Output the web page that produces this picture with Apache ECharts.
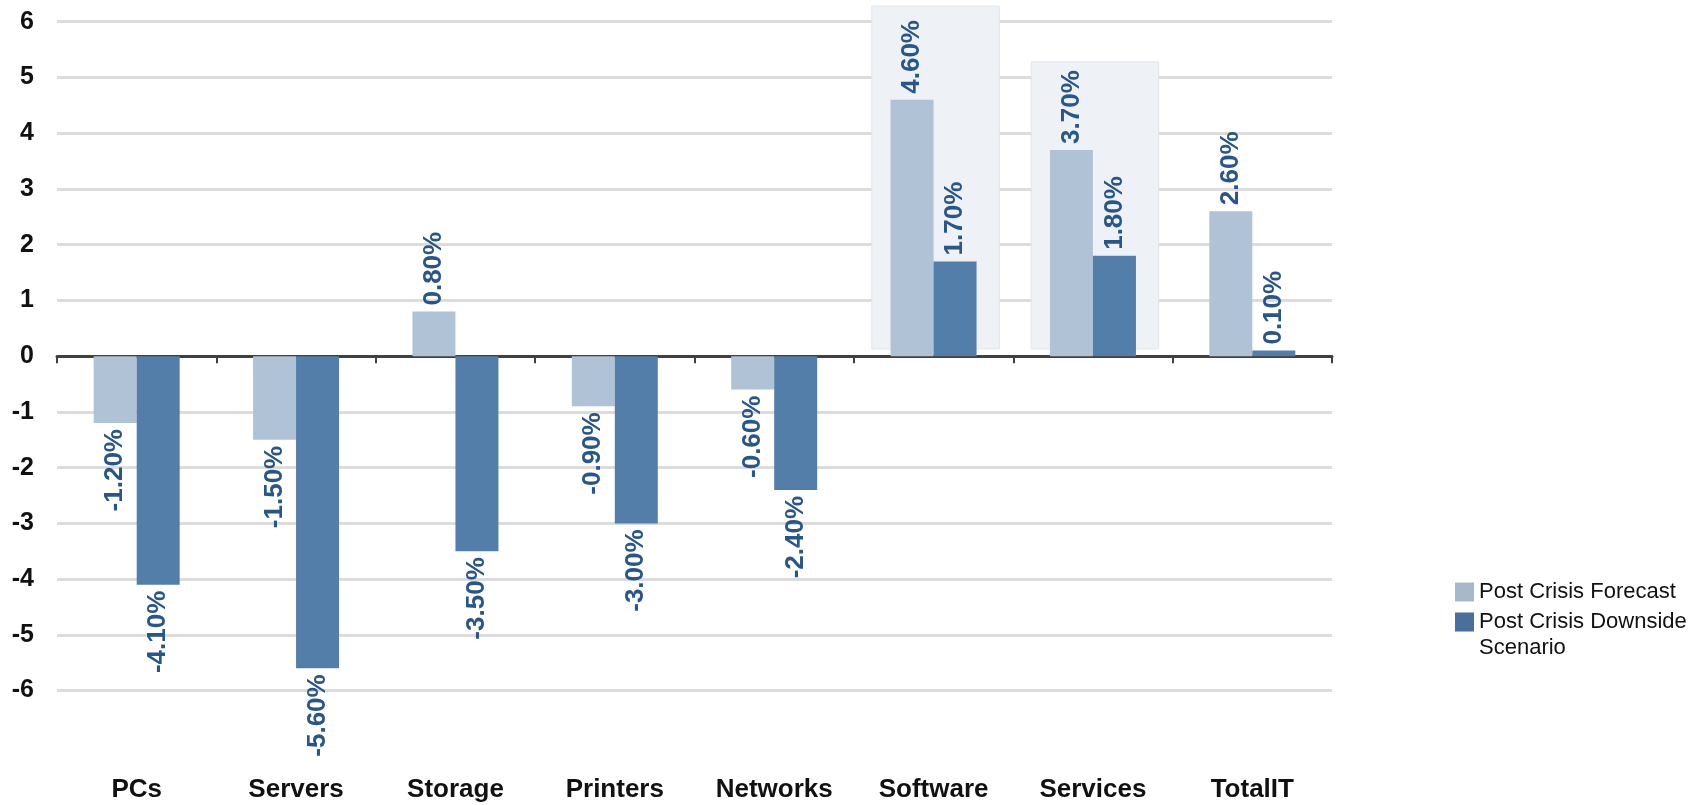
<!DOCTYPE html>
<html>
<head>
<meta charset="utf-8">
<title>Post Crisis IT Spending Outlook</title>
<script src="https://cdn.jsdelivr.net/npm/echarts@6/dist/echarts.min.js"></script>
<style>
  html, body { margin: 0; padding: 0; background: #ffffff; }
  #chart { width: 1700px; height: 805px; }
</style>
</head>
<body>
<div id="chart"></div>
<script>
// Growth outlook by IT segment (percent)
const categories = ['PCs', 'Servers', 'Storage', 'Printers', 'Networks', 'Software', 'Services', 'TotalIT'];
const forecastValues = [-1.2, -1.5, 0.8, -0.9, -0.6, 4.6, 3.7, 2.6];
const downsideValues = [-4.1, -5.6, -3.5, -3.0, -2.4, 1.7, 1.8, 0.1];
const seriesNames = ['Post Crisis Forecast', 'Post Crisis Downside Scenario'];

// Value axis extent and step
const yMin = -6;
const yMax = 6;
const yStep = 1;

// Shaded boxes behind the segments that stay positive in both outlooks
const highlightCategories = ['Software', 'Services'];
const highlightTops = [6.28, 5.28];
const highlightBase = 0.13;

const FONT = "'Liberation Sans', Arial, sans-serif";
const LABEL_COLOR = '#28568a';

function withLabels(values) {
  return values.map(v => ({
    value: v,
    label: v >= 0
      ? { position: 'top', align: 'left', verticalAlign: 'middle' }
      : { position: 'bottom', align: 'right', verticalAlign: 'middle' }
  }));
}

const barLabel = {
  show: true,
  rotate: 90,
  distance: 6,
  color: LABEL_COLOR,
  fontFamily: FONT,
  fontWeight: 'bold',
  fontSize: 26,
  formatter: p => p.value.toFixed(2) + '%'
};

// Two-line legend entry: a blank first line keeps the swatch level with the first text line
function legendText(name) {
  if (name.indexOf('Downside Scenario') >= 0) {
    return ' \n' + name.replace('Downside Scenario', 'Downside\nScenario');
  }
  return name;
}

const chart = echarts.init(document.getElementById('chart'), null, { renderer: 'canvas' });

chart.setOption({
  animation: false,
  backgroundColor: '#ffffff',
  grid: { left: 57, right: 368, top: 21.7, bottom: 114.4, containLabel: false },
  legend: {
    orient: 'vertical',
    left: 1455,
    top: 579,
    padding: 0,
    itemWidth: 19,
    itemHeight: 19,
    itemGap: -22,
    icon: 'rect',
    selectedMode: false,
    textStyle: { fontFamily: FONT, fontSize: 22, color: '#111111', lineHeight: 26 },
    formatter: legendText,
    data: [
      { name: seriesNames[0], itemStyle: { color: '#a7b8cc' } },
      { name: seriesNames[1], itemStyle: { color: '#4a6f98' } }
    ]
  },
  xAxis: [
    {
      type: 'category',
      data: categories,
      boundaryGap: true,
      axisLine: { show: true, onZero: true, lineStyle: { color: '#404040', width: 3 } },
      axisTick: { show: true, length: 7, lineStyle: { color: '#404040', width: 2 } },
      axisLabel: { show: false },
      splitLine: { show: false }
    },
    {
      type: 'category',
      data: categories,
      position: 'bottom',
      boundaryGap: true,
      axisLine: { show: false, onZero: false },
      axisTick: { show: false },
      axisLabel: {
        show: true,
        margin: 86,
        color: '#111111',
        fontFamily: FONT,
        fontWeight: 'bold',
        fontSize: 26
      },
      splitLine: { show: false }
    }
  ],
  yAxis: {
    type: 'value',
    min: yMin,
    max: yMax,
    interval: yStep,
    axisLine: { show: false },
    axisTick: { show: false },
    axisLabel: {
      margin: 23,
      color: '#111111',
      fontFamily: FONT,
      fontWeight: 'bold',
      fontSize: 25
    },
    splitLine: { show: true, lineStyle: { color: '#dcdcdc', width: 3 } }
  },
  series: [
    {
      type: 'custom',
      name: 'highlight',
      xAxisIndex: 0,
      z: 1,
      silent: true,
      encode: { x: 0, y: 1 },
      data: highlightCategories.map((c, i) => [c, highlightTops[i], highlightBase]),
      renderItem: (params, api) => {
        const idx = api.value(0);
        const top = api.coord([idx, api.value(1)]);
        const base = api.coord([idx, api.value(2)]);
        const w = api.size([1, 0])[0] * 0.8;
        return {
          type: 'rect',
          shape: { x: top[0] - w / 2 + 2, y: top[1], width: w, height: base[1] - top[1] },
          style: { fill: '#eef1f5', stroke: '#e1e5eb', lineWidth: 1 }
        };
      }
    },
    {
      type: 'bar',
      name: seriesNames[0],
      xAxisIndex: 0,
      z: 2,
      barWidth: 43,
      barGap: '0%',
      itemStyle: { color: '#b0c2d6' },
      label: barLabel,
      data: withLabels(forecastValues)
    },
    {
      type: 'bar',
      name: seriesNames[1],
      xAxisIndex: 0,
      z: 2,
      barWidth: 43,
      barGap: '0%',
      itemStyle: { color: '#537ea9' },
      label: barLabel,
      data: withLabels(downsideValues)
    }
  ]
});
</script>
</body>
</html>
